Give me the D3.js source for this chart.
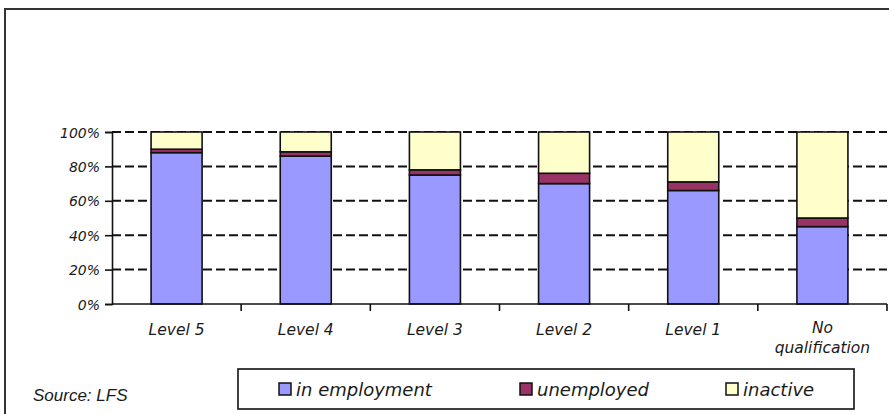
<!DOCTYPE html>
<html>
<head>
<meta charset="utf-8">
<script src="https://cdn.jsdelivr.net/npm/d3@7"></script>
<style>
  body { margin: 0; background: #fff; }
  svg text { fill: #1a1a1a; }
  .tickLabel { font-family: "DejaVu Sans", Verdana, sans-serif; font-style: italic; }
  .legendLabel { font-family: "DejaVu Sans", Verdana, sans-serif; font-style: italic; font-size: 18px; }
  .source { font-family: "Liberation Sans", Arial, sans-serif; font-style: italic; font-size: 17px; }
</style>
</head>
<body>
<div id="chart"></div>
<script>
const categories = ["Level 5", "Level 4", "Level 3", "Level 2", "Level 1", "No qualification"]
const inEmployment = [88, 86, 75, 70, 66, 45]
const unemployed = [2, 2.5, 3, 6, 5, 5]
const inactive = [10, 11.5, 22, 24, 29, 50]
const seriesNames = ["in employment", "unemployed", "inactive"]
const yTicks = [0, 20, 40, 60, 80, 100]

const colors = ["#9999ff", "#993366", "#ffffcc"]

const renderChart = ({htmlComponent}) => {
    const W = 889, H = 414
    const plot = { left: 112, right: 887, top: 132, bottom: 304 }

    const svg = d3.select(htmlComponent).append('svg')
        .attr('width', W)
        .attr('height', H)

    // outer frame of the original figure (runs off the right and bottom)
    svg.append('rect')
        .attr('x', 5).attr('y', 9)
        .attr('width', W + 20).attr('height', H + 20)
        .attr('fill', 'none')
        .attr('stroke', '#333')
        .attr('stroke-width', 2)

    const xScale = d3.scaleBand()
        .domain(categories)
        .range([plot.left, plot.right])
        .paddingInner(0).paddingOuter(0)

    const yScale = d3.scaleLinear()
        .domain([0, 100])
        .range([plot.bottom, plot.top])

    // dashed gridlines
    svg.append('g')
        .selectAll('line').data(yTicks.filter(t => t > 0))
        .enter().append('line')
            .attr('x1', plot.left).attr('x2', plot.right)
            .attr('y1', d => yScale(d)).attr('y2', d => yScale(d))
            .attr('stroke', '#111')
            .attr('stroke-width', 2)
            .attr('stroke-dasharray', '9,4')

    // stacked bars
    const table = categories.map((c, i) => ({
        category: c,
        "in employment": inEmployment[i],
        "unemployed": unemployed[i],
        "inactive": inactive[i]
    }))
    const stacked = d3.stack().keys(seriesNames)(table)
    const barWidth = xScale.bandwidth() * 0.395

    const layers = svg.append('g').selectAll('g').data(stacked)
        .enter().append('g')
            .attr('fill', (d, i) => colors[i])
    layers.selectAll('rect').data(d => d)
        .enter().append('rect')
            .attr('x', d => xScale(d.data.category) + (xScale.bandwidth() - barWidth) / 2)
            .attr('y', d => yScale(d[1]))
            .attr('width', barWidth)
            .attr('height', d => yScale(d[0]) - yScale(d[1]))
            .attr('stroke', '#111')
            .attr('stroke-width', 1.6)

    // y axis
    const yAxis = d3.axisLeft(yScale)
        .tickValues(yTicks)
        .tickSize(7)
        .tickPadding(5)
        .tickFormat(d => d + '%')
    const yG = svg.append('g')
        .attr('transform', `translate(${plot.left},0)`)
        .call(yAxis)
    yG.select('.domain').attr('stroke', '#111').attr('stroke-width', 1.6)
    yG.selectAll('.tick line').attr('stroke', '#111').attr('stroke-width', 1.6)
    yG.selectAll('.tick text')
        .attr('class', 'tickLabel')
        .style('font-size', '14px')
        .attr('dy', '0.36em')

    // x axis: ticks sit on the category boundaries
    svg.append('line')
        .attr('x1', plot.left).attr('x2', plot.right)
        .attr('y1', plot.bottom).attr('y2', plot.bottom)
        .attr('stroke', '#111').attr('stroke-width', 1.6)
    const boundaries = categories.map(c => xScale(c)).concat([plot.right])
    svg.append('g').selectAll('line').data(boundaries.slice(1))
        .enter().append('line')
            .attr('x1', d => d).attr('x2', d => d)
            .attr('y1', plot.bottom).attr('y2', plot.bottom + 7)
            .attr('stroke', '#111').attr('stroke-width', 1.6)

    const xLabels = svg.append('g').selectAll('text').data(categories)
        .enter().append('text')
            .attr('class', 'tickLabel')
            .style('font-size', '15.5px')
            .attr('text-anchor', 'middle')
            .attr('x', d => xScale(d) + xScale.bandwidth() / 2)
            .attr('y', 335)
    xLabels.each(function (d) {
        const words = d === "No qualification" ? ["No", "qualification"] : [d]
        const t = d3.select(this)
        const cx = t.attr('x')
        words.forEach((w, i) => {
            t.append('tspan')
                .attr('x', cx)
                .attr('dy', i === 0 ? (words.length > 1 ? -2 : 0) : 20)
                .text(w)
        })
    })

    // source note
    svg.append('text')
        .attr('class', 'source')
        .attr('x', 33).attr('y', 401)
        .text('Source: LFS')

    // legend
    const legend = svg.append('g')
    legend.append('rect')
        .attr('x', 238).attr('y', 369)
        .attr('width', 616).attr('height', 40)
        .attr('fill', '#fff')
        .attr('stroke', '#111')
        .attr('stroke-width', 1.6)
    const legendX = [279, 520, 726]
    const items = legend.selectAll('g.item').data(seriesNames)
        .enter().append('g')
            .attr('class', 'item')
            .attr('transform', (d, i) => `translate(${legendX[i]}, 383)`)
    items.append('rect')
        .attr('width', 12).attr('height', 12)
        .attr('fill', (d, i) => colors[i])
        .attr('stroke', '#111')
        .attr('stroke-width', 1.5)
    items.append('text')
        .attr('class', 'legendLabel')
        .attr('x', 17).attr('y', 12.5)
        .text(d => d)
}

renderChart({ htmlComponent: '#chart' })
</script>
</body>
</html>
